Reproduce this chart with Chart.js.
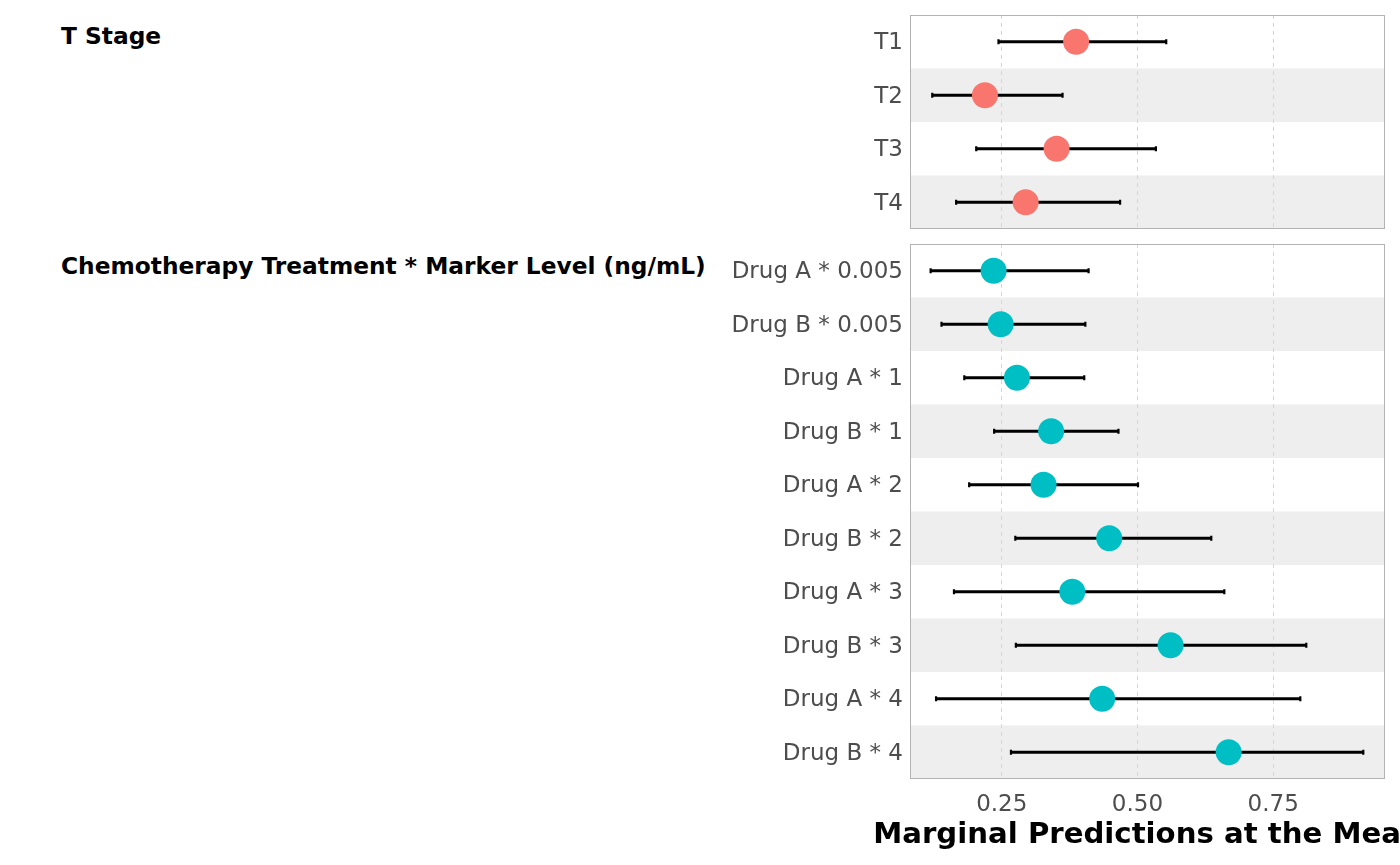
<!DOCTYPE html>
<html>
<head>
<meta charset="utf-8">
<script src="https://cdn.jsdelivr.net/npm/chart.js@4.4.0/dist/chart.umd.min.js"></script>
<style>
  body { margin: 0; background: #fff; width: 1400px; height: 865px; overflow: hidden; position: relative; font-family: "DejaVu Sans", sans-serif; }
  .box { position: absolute; left: 0; width: 1400px; }
  .strip { position: absolute; left: 61px; font-weight: bold; font-size: 23.3px; line-height: 1; color: #000; white-space: nowrap; }
</style>
</head>
<body>
<div class="strip" style="top:24px">T Stage</div>
<div class="strip" style="top:254px">Chemotherapy Treatment * Marker Level (ng/mL)</div>
<div class="box" style="top:0;height:242px"><canvas id="stage"></canvas></div>
<div class="box" style="top:230px;height:635px"><canvas id="chemo"></canvas></div>
<script>
// values
const stageLabels = ['T1', 'T2', 'T3', 'T4'];
const stageEstimate = [0.387, 0.219, 0.351, 0.294];
const stageLow = [0.244, 0.122, 0.203, 0.166];
const stageHigh = [0.553, 0.362, 0.534, 0.468];

const chemoLabels = ['Drug A * 0.005', 'Drug B * 0.005', 'Drug A * 1', 'Drug B * 1', 'Drug A * 2',
                     'Drug B * 2', 'Drug A * 3', 'Drug B * 3', 'Drug A * 4', 'Drug B * 4'];
const chemoEstimate = [0.235, 0.248, 0.278, 0.341, 0.327, 0.448, 0.380, 0.561, 0.435, 0.668];
const chemoLow = [0.119, 0.139, 0.181, 0.236, 0.190, 0.275, 0.162, 0.276, 0.129, 0.267];
const chemoHigh = [0.410, 0.404, 0.402, 0.465, 0.501, 0.636, 0.660, 0.811, 0.800, 0.916];

const xTicks = [0.25, 0.50, 0.75];
const xMin = 0.081;
const xMax = 0.956;
const xTitle = 'Marginal Predictions at the Mean';

// grey bands behind every second row, panel frame, and the x title
// (drawn by hand because the scale title gets squeezed to the chart width)
const panelPlugin = {
    id: 'panel',
    beforeDraw(chart) {
        const { ctx, chartArea } = chart;
        const y = chart.scales.y;
        const n = y.getLabels().length;
        const band = chartArea.height / n;
        ctx.save();
        ctx.fillStyle = '#eeeeee';
        for (let i = 1; i < n; i += 2) {
            const c = y.getPixelForValue(i);
            ctx.fillRect(chartArea.left, c - band / 2, chartArea.width, band);
        }
        ctx.restore();
    },
    afterDraw(chart, args, opts) {
        const { ctx, chartArea } = chart;
        ctx.save();
        ctx.strokeStyle = '#b3b3b3';
        ctx.lineWidth = 1;
        ctx.strokeRect(chartArea.left + 0.5, chartArea.top + 0.5, chartArea.width - 1, chartArea.height - 1);
        if (opts.title) {
            ctx.fillStyle = '#000';
            ctx.font = 'bold 29.2px "DejaVu Sans", sans-serif';
            ctx.textAlign = 'center';
            ctx.textBaseline = 'alphabetic';
            ctx.fillText(opts.title, (chartArea.left + chartArea.right) / 2, chartArea.bottom + 64);
        }
        ctx.restore();
    }
};

function noPad(s) {
    s.paddingTop = 0;
    s.paddingBottom = 0;
    s.paddingLeft = 0;
    s.paddingRight = 0;
}

function makeChart(id, labels, estimate, low, high, color, showAxis, padding) {
    return new Chart(id, {
        type: 'bar',
        data: {
            datasets: [
                {
                    type: 'scatter',
                    data: labels.map((l, i) => ({ x: estimate[i], y: l })),
                    backgroundColor: color,
                    borderWidth: 0,
                    radius: 13,
                    hoverRadius: 13,
                    order: 1
                },
                {
                    type: 'scatter',
                    data: labels.flatMap((l, i) => [{ x: low[i], y: l }, { x: high[i], y: l }]),
                    pointStyle: 'line',
                    rotation: 90,
                    radius: 2.4,
                    hoverRadius: 2.4,
                    borderColor: '#000',
                    borderWidth: 2.2,
                    order: 2
                },
                {
                    type: 'bar',
                    indexAxis: 'y',
                    data: labels.map((l, i) => [low[i], high[i]]),
                    backgroundColor: '#000',
                    barThickness: 2.3,
                    order: 3
                }
            ]
        },
        options: {
            responsive: true,
            maintainAspectRatio: false,
            animation: false,
            devicePixelRatio: 1,
            layout: { padding: padding },
            plugins: {
                legend: { display: false },
                tooltip: { enabled: false },
                panel: { title: showAxis ? xTitle : '' }
            },
            scales: {
                x: {
                    type: 'linear',
                    min: xMin,
                    max: xMax,
                    offset: false,
                    afterBuildTicks: s => { s.ticks = xTicks.map(v => ({ value: v })); },
                    afterFit: s => { noPad(s); s.height = showAxis ? 86 : 0; },
                    grid: { offset: false, color: '#d6d6d6', lineWidth: 1, drawTicks: false },
                    border: { display: false, dash: [4, 4] },
                    ticks: {
                        display: showAxis,
                        padding: 12,
                        color: '#4d4d4d',
                        font: { family: '"DejaVu Sans", sans-serif', size: 23 },
                        callback: v => v.toFixed(2)
                    }
                },
                y: {
                    type: 'category',
                    labels: labels,
                    afterFit: s => { noPad(s); s.width = 910; },
                    grid: { display: false, drawTicks: false, tickLength: 0 },
                    border: { display: false },
                    ticks: {
                        padding: 7,
                        labelOffset: 1.5,
                        color: '#4d4d4d',
                        font: { family: '"DejaVu Sans", sans-serif', size: 23 }
                    }
                }
            }
        },
        plugins: [panelPlugin]
    });
}

makeChart('stage', stageLabels, stageEstimate, stageLow, stageHigh, '#F8766D', false,
          { top: 15, right: 15, bottom: 6, left: 0 });
makeChart('chemo', chemoLabels, chemoEstimate, chemoLow, chemoHigh, '#00BFC4', true,
          { top: 14, right: 15, bottom: 0, left: 0 });
</script>
</body>
</html>
